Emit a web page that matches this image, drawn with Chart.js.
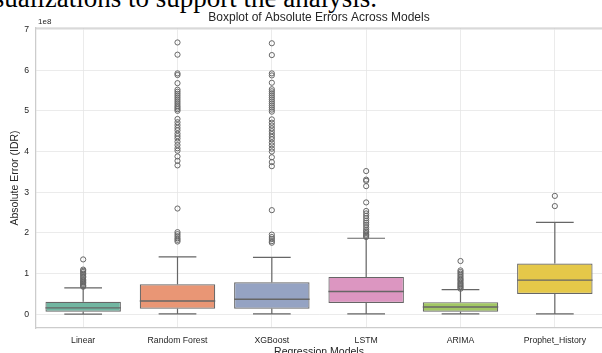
<!DOCTYPE html>
<html>
<head>
<meta charset="utf-8">
<script src="https://cdn.jsdelivr.net/npm/chart.js@4/dist/chart.umd.min.js"></script>
<style>
  html, body { margin: 0; padding: 0; background: #ffffff; overflow: hidden; width: 602px; height: 353px; }
  #doc { position: absolute; left: 0; top: -15px; width: 377px; height: 34px; overflow: hidden; }
  #doc span { position: absolute; right: 0; top: 0; white-space: nowrap;
         font-family: "Liberation Serif", serif; font-size: 27px; line-height: 27px; color: #000; }
  #wrap { position: absolute; left: 0; top: 0; width: 602px; height: 360px; }
</style>
</head>
<body>
<div id="doc"><span>visualizations to support the analysis.</span></div>
<div id="wrap"><canvas id="c" width="602" height="360"></canvas></div>
<script>
// ---- data (values in units of 1e8 IDR) ----
const categories = ['Linear', 'Random Forest', 'XGBoost', 'LSTM', 'ARIMA', 'Prophet_History'];
const whiskerLow  = [0.005, 0.01, 0.01, 0.01, 0.01, 0.01];
const q1          = [0.066, 0.14, 0.14, 0.28, 0.066, 0.50];
const median      = [0.16, 0.33, 0.37, 0.56, 0.18, 0.84];
const q3          = [0.31, 0.74, 0.79, 0.92, 0.30, 1.25];
const whiskerHigh = [0.65, 1.41, 1.40, 1.87, 0.61, 2.26];
const outliersLinear = [0.68, 0.70, 0.72, 0.75, 0.78, 0.80, 0.83, 0.86, 0.90, 0.93, 0.97, 1.00, 1.04, 1.07, 1.10, 1.35];
const outliersRandomForest = [1.79, 1.83, 1.87, 1.92, 1.97, 2.02, 2.60, 3.66, 3.77, 3.88, 4.02, 4.08, 4.16, 4.24, 4.32, 4.38, 4.44, 4.52, 4.58, 4.65, 4.72, 4.80, 5.00, 5.04, 5.08, 5.12, 5.17, 5.22, 5.27, 5.32, 5.37, 5.42, 5.47, 5.52, 5.68, 5.88, 5.92, 6.38, 6.68];
const outliersXGBoost = [1.76, 1.80, 1.85, 1.90, 1.96, 2.56, 3.64, 3.74, 3.86, 4.00, 4.07, 4.15, 4.22, 4.30, 4.36, 4.43, 4.50, 4.57, 4.64, 4.71, 4.79, 4.98, 5.03, 5.08, 5.13, 5.18, 5.23, 5.28, 5.33, 5.38, 5.43, 5.48, 5.53, 5.69, 5.87, 5.92, 6.37, 6.66];
const outliersLSTM = [1.90, 1.93, 1.96, 2.00, 2.04, 2.08, 2.14, 2.20, 2.25, 2.30, 2.36, 2.42, 2.48, 2.54, 2.75, 3.15, 3.28, 3.31, 3.52];
const outliersARIMA = [0.63, 0.66, 0.69, 0.72, 0.75, 0.78, 0.82, 0.85, 0.88, 0.92, 0.96, 1.00, 1.04, 1.08, 1.31];
const outliersProphet = [2.66, 2.91];
const yTickValues = [0, 1, 2, 3, 4, 5, 6, 7];
const offsetLabel = '1e8';

// ---- styles ----
const boxColors = ['#71b6a1', '#e99675', '#95a3c3', '#dc96c1', '#a2c764', '#e5c849'];
const lineColor = '#666666';
const textColor = '#262626';
const FONT = '"Liberation Sans", Arial, sans-serif';

const outlierSets = [outliersLinear, outliersRandomForest, outliersXGBoost, outliersLSTM, outliersARIMA, outliersProphet];
const outlierPoints = [];
outlierSets.forEach((arr, i) => arr.forEach(v => outlierPoints.push({ x: categories[i], y: v })));

const boxPlugin = {
  id: 'boxParts',
  beforeDatasetsDraw(chart) {
    const ctx = chart.ctx, ys = chart.scales.y, meta = chart.getDatasetMeta(0);
    ctx.save();
    ctx.strokeStyle = lineColor; ctx.lineWidth = 1.2;
    meta.data.forEach((bar, i) => {
      const x = bar.x, half = bar.width / 4;
      const yLo = ys.getPixelForValue(whiskerLow[i]), yHi = ys.getPixelForValue(whiskerHigh[i]);
      const yQ1 = ys.getPixelForValue(q1[i]), yQ3 = ys.getPixelForValue(q3[i]);
      ctx.beginPath();
      ctx.moveTo(x, yQ3); ctx.lineTo(x, yHi);
      ctx.moveTo(x, yQ1); ctx.lineTo(x, yLo);
      ctx.moveTo(x - half, yHi); ctx.lineTo(x + half, yHi);
      ctx.moveTo(x - half, yLo); ctx.lineTo(x + half, yLo);
      ctx.stroke();
    });
    ctx.restore();
  },
  afterDatasetsDraw(chart) {
    const ctx = chart.ctx, ys = chart.scales.y, meta = chart.getDatasetMeta(0);
    ctx.save();
    ctx.strokeStyle = lineColor; ctx.lineWidth = 1.4;
    meta.data.forEach((bar, i) => {
      const x = bar.x, half = bar.width / 2;
      const yM = ys.getPixelForValue(median[i]);
      ctx.beginPath();
      ctx.moveTo(x - half, yM); ctx.lineTo(x + half, yM);
      ctx.stroke();
    });
    ctx.restore();
  },
  afterDraw(chart) {
    const ctx = chart.ctx, a = chart.chartArea;
    ctx.save();
    ctx.strokeStyle = '#cccccc'; ctx.lineWidth = 1.25;
    ctx.beginPath(); ctx.moveTo(a.left, a.top); ctx.lineTo(a.right, a.top); ctx.stroke();
    ctx.fillStyle = textColor; ctx.font = '8px ' + FONT;
    ctx.textAlign = 'left'; ctx.textBaseline = 'middle';
    ctx.fillText(offsetLabel, a.left + 2, 21.5);
    ctx.restore();
  }
};

new Chart(document.getElementById('c'), {
  data: {
    labels: categories,
    datasets: [
      {
        type: 'bar',
        data: categories.map((c, i) => [q1[i], q3[i]]),
        backgroundColor: boxColors,
        borderColor: lineColor,
        borderWidth: 1.2,
        borderSkipped: false,
        barPercentage: 0.8,
        categoryPercentage: 1,
        grouped: false,
        order: 2
      },
      {
        type: 'line',
        data: outlierPoints,
        showLine: false,
        pointStyle: 'circle',
        pointRadius: 2.6,
        pointHoverRadius: 2.6,
        pointBorderWidth: 1,
        pointBorderColor: lineColor,
        pointBackgroundColor: 'rgba(255,255,255,0)',
        order: 1
      }
    ]
  },
  options: {
    responsive: false,
    animation: false,
    devicePixelRatio: 1,
    layout: { padding: 0, autoPadding: false },
    plugins: {
      legend: { display: false },
      tooltip: { enabled: false },
      title: {
        display: true,
        text: 'Boxplot of Absolute Errors Across Models',
        color: textColor,
        font: { family: FONT, size: 12, weight: 'normal' },
        padding: { top: 10.8, bottom: 2.8 },
        fullSize: false
      }
    },
    scales: {
      x: {
        type: 'category',
        offset: true,
        grid: { display: true, offset: false, color: '#e6e6e6', lineWidth: 0.8, drawTicks: false },
        border: { display: true, color: '#cccccc', width: 1.25, dash: [] },
        ticks: { color: textColor, font: { family: FONT, size: 8.7 }, padding: 7, maxRotation: 0 },
        title: { display: true, text: 'Regression Models', color: textColor, font: { family: FONT, size: 10.5 }, padding: { top: 0, bottom: 1.7 } },
        afterFit(s) { s.height = 32; s.paddingLeft = 0; s.paddingRight = 0; }
      },
      y: {
        type: 'linear',
        min: -0.335,
        max: 7.035,
        grid: { color: '#e6e6e6', lineWidth: 0.8, drawTicks: false },
        border: { display: true, color: '#cccccc', width: 1.25 },
        ticks: {
          stepSize: 1, includeBounds: false, color: textColor, padding: 7,
          font: { family: FONT, size: 8.7 },
          callback: v => yTickValues.includes(v) ? String(v) : ''
        },
        title: { display: true, text: 'Absolute Error (IDR)', color: textColor, font: { family: FONT, size: 10.5 }, padding: { top: 8.7, bottom: 0 } },
        afterFit(s) { s.width = 36; s.paddingTop = 0; s.paddingBottom = 0; }
      }
    }
  },
  plugins: [boxPlugin]
});
</script>
</body>
</html>
